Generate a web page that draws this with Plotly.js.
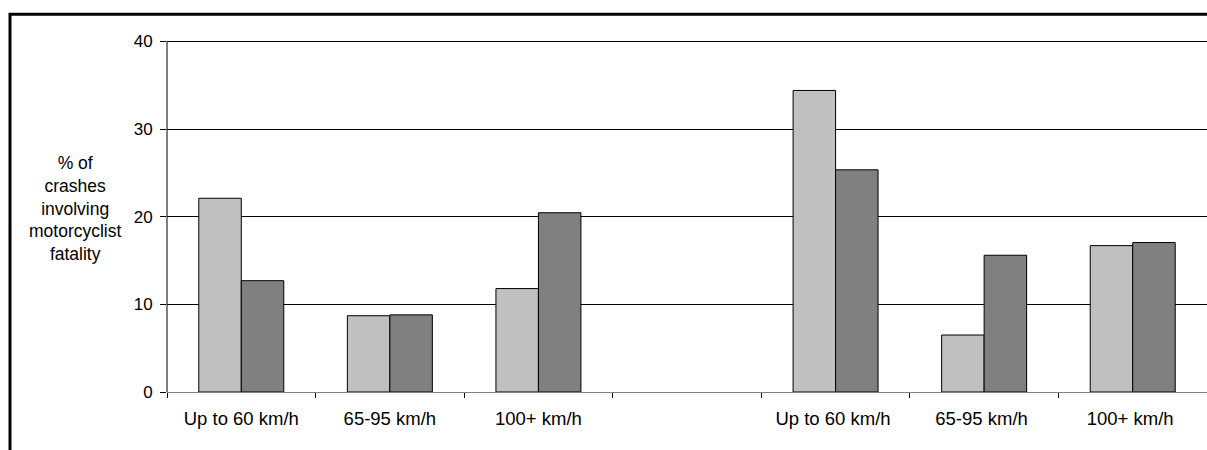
<!DOCTYPE html>
<html>
<head>
<meta charset="utf-8">
<script src="https://cdn.plot.ly/plotly-3.0.1.min.js"></script>
<style>html,body{margin:0;padding:0;background:#fff;}#chart{width:1207px;height:450px;}</style>
</head>
<body>
<div id="chart"></div>
<script>
// Category slots: three speed bands, an empty spacer, three speed bands
const categories = ["Up to 60 km/h", "65-95 km/h", "100+ km/h", " ", "Up to 60 km/h ", "65-95 km/h ", "100+ km/h "];
const seriesLight = [22.1, 8.7, 11.8, null, 34.4, 6.5, 16.7];
const seriesDark  = [12.7, 8.8, 20.45, null, 25.35, 15.6, 17.05];
const yTickVals = [0, 10, 20, 30, 40];
const yTitleLines = ["% of", "crashes", "involving", "motorcyclist", "fatality"];

const font = {family: "Liberation Sans, Arial, sans-serif", color: "#000"};

const traces = [
  {type: "bar", x: categories, y: seriesLight, name: "Series 1",
   marker: {color: "#C0C0C0", line: {color: "#000", width: 1}}},
  {type: "bar", x: categories, y: seriesDark, name: "Series 2",
   marker: {color: "#808080", line: {color: "#000", width: 1}}}
];

const plotTopPx = 37, plotBottomPx = 392;
const plotH = plotBottomPx - plotTopPx;

const layout = {
  width: 1207, height: 450,
  margin: {l: 167, r: 0, t: plotTopPx, b: 450 - plotBottomPx, pad: 0},
  paper_bgcolor: "#fff", plot_bgcolor: "#fff",
  showlegend: false,
  barmode: "group",
  bargap: 0.428, bargroupgap: 0,
  font: Object.assign({size: 17}, font),
  xaxis: {
    type: "category", categoryorder: "array", categoryarray: categories,
    showline: true, linecolor: "#808080", linewidth: 1,
    ticks: "outside", tickson: "boundaries", ticklen: 5, tickcolor: "#000", tickwidth: 1,
    showgrid: false, zeroline: false,
    tickfont: Object.assign({size: 18.5}, font),
    ticklabelstandoff: 10
  },
  yaxis: {
    range: [0, 40.5], tickvals: yTickVals,
    showline: false,
    ticks: "outside", ticklen: 6, tickcolor: "#000",
    showgrid: true, gridcolor: "#000", gridwidth: 1,
    zeroline: false,
    tickfont: Object.assign({size: 17}, font),
    ticklabelstandoff: 4
  },
  annotations: [{
    xref: "paper", yref: "paper",
    x: (75 - 167) / 1040, y: (plotBottomPx - 208) / plotH,
    xanchor: "center", yanchor: "middle",
    text: yTitleLines.join("<br>"), showarrow: false, align: "center",
    font: Object.assign({size: 17.5}, font)
  }],
  shapes: [
    {
      // vertical value-axis line from 0 up to the top gridline (40)
      type: "line", xref: "paper", yref: "y",
      x0: 0, x1: 0, y0: yTickVals[0], y1: yTickVals[yTickVals.length - 1],
      line: {color: "#000", width: 1}
    },
    {
      // outer frame (left and top edges)
      type: "path", xref: "paper", yref: "paper",
      path: "M " + ((10 - 167) / 1040) + "," + (-0.3) + " L " + ((10 - 167) / 1040) + "," + ((plotBottomPx - 14.3) / plotH) + " L 1.05," + ((plotBottomPx - 14.3) / plotH),
      line: {color: "#000", width: 3}
    }
  ]
};

Plotly.newPlot("chart", traces, layout, {staticPlot: true, displayModeBar: false});
</script>
</body>
</html>
